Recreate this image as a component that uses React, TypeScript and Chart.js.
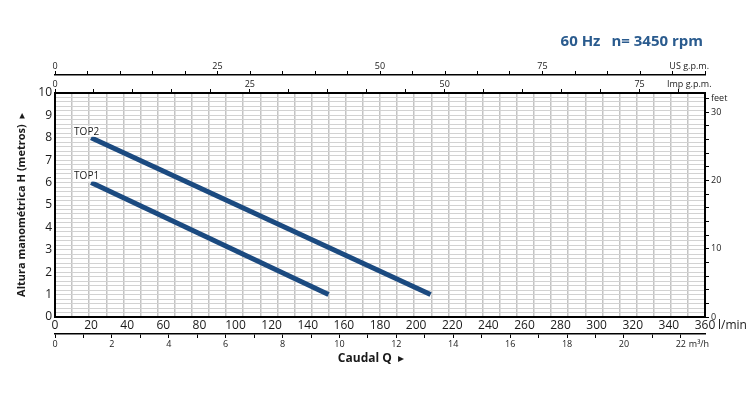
import React, { useEffect, useRef } from 'react';
import { Chart, registerables } from 'chart.js';

Chart.register(...registerables);

const FAMILY = '"Open Sans", "Noto Sans", "DejaVu Sans", sans-serif';

// Data (flow in l/min, head in metres)
const top1Flow = [20, 151.5];
const top1Head = [6, 1];
const top2Flow = [20, 208];
const top2Head = [8, 1];
const curveNames = ['TOP1', 'TOP2'];

// Axis ranges / labels
const flowMax = 360; // l/min
const flowStep = 20;
const headMax = 10; // m
const feetMax = 32.81;
const feetLabels = [0, 10, 20, 30];
const feetTitleTick = 32;
const usMax = 100;
const usLabels = [0, 25, 50, 75];
const impMax = 83.4;
const impLabels = [0, 25, 50, 75];
const m3Max = 22.85;
const m3Labels = [0, 2, 4, 6, 8, 10, 12, 14, 16, 18, 20, 22];
const gridCols = 38;
const gridRowStep = 0.2;

const titleLeft = '60 Hz';
const titleRight = 'n= 3450 rpm';
const yTitle = 'Altura manométrica H (metros)  \u25B8';
const xTitle = 'Caudal Q  \u25B8';
const unitLmin = 'l/min';
const unitM3 = 'm\u00B3/h';
const unitUs = 'US g.p.m.';
const unitImp = 'Imp g.p.m.';

const LINE_COLOR = '#1b4a80';
const TEXT = '#1a1a1a';

const extras = {
  id: 'extras',
  afterDatasetsDraw(chart: any) {
    const ctx = chart.ctx;
    const { x, y } = chart.scales;
    ctx.save();
    ctx.font = `10px ${FAMILY}`;
    ctx.textBaseline = 'middle';
    ctx.textAlign = 'left';
    const pts = [
      [top1Flow[0], top1Head[0], curveNames[0]],
      [top2Flow[0], top2Head[0], curveNames[1]],
    ] as [number, number, string][];
    pts.forEach(([q, h, name]) => {
      const px = x.getPixelForValue(q) - 17;
      const py = y.getPixelForValue(h) - 6;
      const w = ctx.measureText(name).width;
      ctx.fillStyle = '#ffffff';
      ctx.fillRect(px - 1, py - 6, w + 2, 11);
      ctx.fillStyle = TEXT;
      ctx.fillText(name, px, py);
    });
    ctx.restore();
  },
  afterDraw(chart: any) {
    const ctx = chart.ctx;
    const { x, m3, us, imp } = chart.scales;
    const area = chart.chartArea;
    ctx.save();
    // title
    ctx.fillStyle = '#2a5b8e';
    ctx.font = `bold 15px ${FAMILY}`;
    ctx.textBaseline = 'middle';
    ctx.textAlign = 'right';
    const rw = ctx.measureText(titleRight).width;
    ctx.fillText(titleRight, area.right - 2, 42);
    ctx.fillText(titleLeft, area.right - 2 - rw - 11, 42);

    ctx.fillStyle = TEXT;
    // l/min
    ctx.font = `12px ${FAMILY}`;
    ctx.textAlign = 'left';
    ctx.fillText(unitLmin, x.getPixelForValue(flowMax) + 13, x.top + 9);
    // m3/h
    ctx.font = `9px ${FAMILY}`;
    ctx.fillText(unitM3, m3.getPixelForValue(22) + 8, m3.top + 10);
    // US / Imp
    ctx.textAlign = 'right';
    ctx.fillText(unitUs, us.getPixelForValue(usMax) + 4, us.bottom - 9);
    ctx.fillText(unitImp, imp.getPixelForValue(80) + 33, imp.bottom - 9);
    // Caudal Q
    ctx.font = `bold 12px ${FAMILY}`;
    ctx.textAlign = 'center';
    ctx.fillText(xTitle, x.getPixelForValue(175), m3.bottom + 5);
    ctx.restore();
  },
};

const filterStep = (step: number) => (s: any) => {
  s.ticks = s.ticks.filter((t: any) => Math.abs(t.value / step - Math.round(t.value / step)) < 1e-6);
};

export default function App() {
  const ref = useRef<HTMLCanvasElement>(null);
  useEffect(() => {
    if (!ref.current) return;
    const chart = new Chart(ref.current, {
      type: 'line',
      data: {
        datasets: [
          {
            label: curveNames[0],
            data: top1Flow.map((q, i) => ({ x: q, y: top1Head[i] })),
            borderColor: LINE_COLOR,
            borderWidth: 5,
            borderCapStyle: 'butt',
            pointRadius: 0,
            fill: false,
            xAxisID: 'x',
            yAxisID: 'y',
          },
          {
            label: curveNames[1],
            data: top2Flow.map((q, i) => ({ x: q, y: top2Head[i] })),
            borderColor: LINE_COLOR,
            borderWidth: 5,
            borderCapStyle: 'butt',
            pointRadius: 0,
            fill: false,
            xAxisID: 'x',
            yAxisID: 'y',
          },
        ],
      },
      options: {
        responsive: false,
        animation: false,
        devicePixelRatio: 1,
        layout: { padding: { top: 57, bottom: 39, left: 0, right: 0 } },
        plugins: { legend: { display: false }, tooltip: { enabled: false }, title: { display: false } },
        scales: {
          xg: {
            type: 'linear', position: 'bottom', min: 0, max: gridCols, weight: 5,
            ticks: { display: false, stepSize: 1 },
            grid: { color: '#c4c4c4', lineWidth: 1.5, drawTicks: false },
            border: { display: false },
            afterFit: (s: any) => { s.height = 0; },
          },
          yg: {
            type: 'linear', position: 'left', min: 0, max: headMax, weight: -5,
            ticks: { display: false, stepSize: gridRowStep },
            grid: { color: '#d2d2d2', lineWidth: 1, drawTicks: false },
            border: { display: false },
            afterFit: (s: any) => { s.width = 0; },
          },
          x: {
            type: 'linear', position: 'bottom', min: 0, max: flowMax, weight: 0,
            ticks: { stepSize: flowStep, autoSkip: false, maxRotation: 0, padding: 1, color: TEXT, font: { size: 12, family: FAMILY } },
            grid: { display: true, drawOnChartArea: false, drawTicks: false },
            border: { display: true, color: '#000', width: 2, z: 1 },
            afterFit: (s: any) => { s.height = 17; },
          },
          m3: {
            type: 'linear', position: 'bottom', min: 0, max: m3Max, weight: 1,
            afterBuildTicks: filterStep(1),
            ticks: {
              stepSize: 1, autoSkip: false, includeBounds: false, maxRotation: 0, padding: 1, color: TEXT,
              font: { size: 9, family: FAMILY },
              callback: (v: any) => (m3Labels.includes(Number(v)) ? String(v) : ''),
            },
            grid: { drawOnChartArea: false, drawTicks: true, tickLength: 4, tickColor: '#000', tickWidth: 1 },
            border: { display: true, color: '#000', width: 1.5, z: 1 },
            afterFit: (s: any) => { s.height = 20; },
          },
          y: {
            type: 'linear', position: 'left', min: 0, max: headMax, weight: 0,
            ticks: { stepSize: 1, padding: 3, color: TEXT, font: { size: 12, family: FAMILY } },
            grid: { display: true, drawOnChartArea: false, drawTicks: false },
            border: { display: true, color: '#000', width: 2, z: 1 },
            title: {
              display: true, text: yTitle, color: TEXT,
              font: { size: 11, weight: 'bold', family: FAMILY },
              padding: { top: 15, bottom: 0 },
            },
            afterFit: (s: any) => { s.width = 55; },
          },
          ft: {
            type: 'linear', position: 'right', min: 0, max: feetMax,
            afterBuildTicks: filterStep(2),
            ticks: {
              stepSize: 2, autoSkip: false, includeBounds: false, padding: 2, color: TEXT,
              font: { size: 9, family: FAMILY },
              callback: (v: any) => (Number(v) === feetTitleTick ? 'feet' : feetLabels.includes(Number(v)) ? String(v) : ''),
            },
            grid: { drawOnChartArea: false, drawTicks: true, tickLength: 4, tickColor: '#000' },
            border: { display: true, color: '#000', width: 2, z: 1 },
            afterFit: (s: any) => { s.width = 45; },
          },
          imp: {
            type: 'linear', position: 'top', min: 0, max: impMax, weight: 0,
            afterBuildTicks: filterStep(5),
            ticks: {
              stepSize: 5, autoSkip: false, includeBounds: false, maxRotation: 0, padding: -1, color: TEXT,
              font: { size: 9, family: FAMILY },
              callback: (v: any) => (impLabels.includes(Number(v)) ? String(v) : ''),
            },
            grid: { drawOnChartArea: false, drawTicks: true, tickLength: 4, tickColor: '#000' },
            border: { display: true, color: '#000', width: 2, z: 1 },
            afterFit: (s: any) => { s.height = 18; },
          },
          us: {
            type: 'linear', position: 'top', min: 0, max: usMax, weight: 1,
            afterBuildTicks: filterStep(5),
            ticks: {
              stepSize: 5, autoSkip: false, maxRotation: 0, padding: -1, color: TEXT,
              font: { size: 9, family: FAMILY },
              callback: (v: any) => (usLabels.includes(Number(v)) ? String(v) : ''),
            },
            grid: { drawOnChartArea: false, drawTicks: true, tickLength: 4, tickColor: '#000' },
            border: { display: true, color: '#000', width: 1.5, z: 1 },
            afterFit: (s: any) => { s.height = 18; },
          },
        },
      } as any,
      plugins: [extras],
    });
    return () => chart.destroy();
  }, []);
  return (
    <div style={{ position: 'absolute', left: 0, top: 0, width: 750, height: 393, background: '#fff' }}>
      <canvas ref={ref} width={750} height={393} />
    </div>
  );
}
